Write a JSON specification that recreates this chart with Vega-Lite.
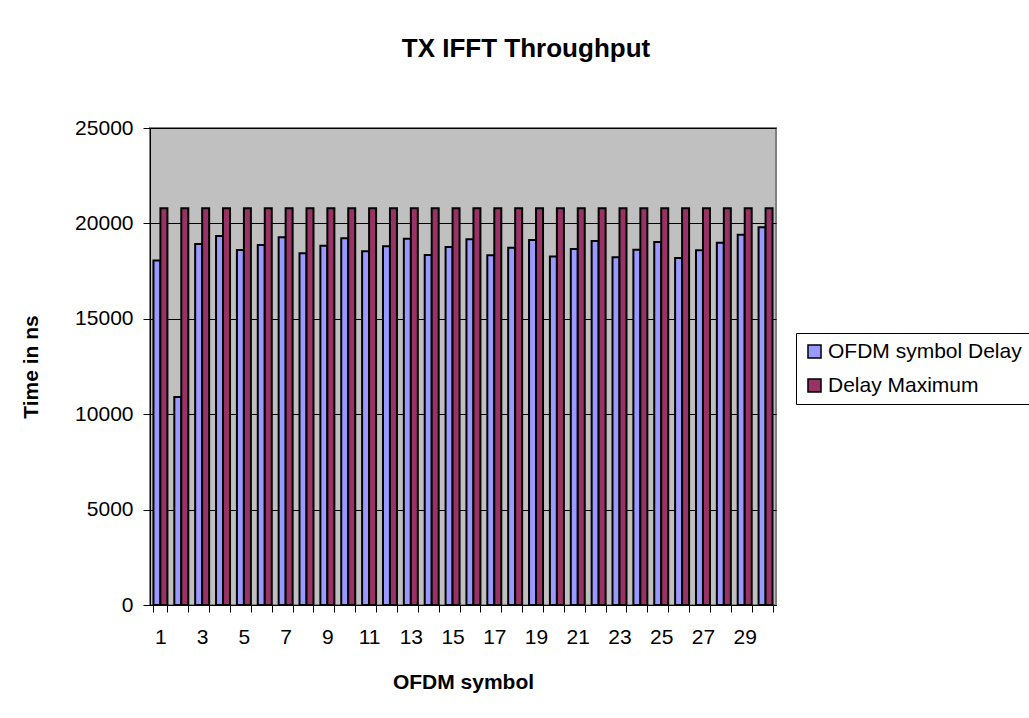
{
  "$schema": "https://vega.github.io/schema/vega-lite/v6.json",
  "width": 626,
  "height": 477,
  "autosize": "none",
  "padding": {"left": 150, "top": 128, "right": 253, "bottom": 113},
  "background": "white",
  "title": {"text": "TX IFFT Throughput", "font": "Liberation Sans", "fontSize": 26, "fontWeight": "bold", "color": "black", "anchor": "middle", "dx": 63, "offset": 55},
  "data": {"values": [
    {"symbol": 1, "series": "OFDM symbol Delay", "value": 18050}, {"symbol": 1, "series": "Delay Maximum", "value": 20800},
    {"symbol": 2, "series": "OFDM symbol Delay", "value": 10900}, {"symbol": 2, "series": "Delay Maximum", "value": 20800},
    {"symbol": 3, "series": "OFDM symbol Delay", "value": 18920}, {"symbol": 3, "series": "Delay Maximum", "value": 20800},
    {"symbol": 4, "series": "OFDM symbol Delay", "value": 19340}, {"symbol": 4, "series": "Delay Maximum", "value": 20800},
    {"symbol": 5, "series": "OFDM symbol Delay", "value": 18610}, {"symbol": 5, "series": "Delay Maximum", "value": 20800},
    {"symbol": 6, "series": "OFDM symbol Delay", "value": 18870}, {"symbol": 6, "series": "Delay Maximum", "value": 20800},
    {"symbol": 7, "series": "OFDM symbol Delay", "value": 19270}, {"symbol": 7, "series": "Delay Maximum", "value": 20800},
    {"symbol": 8, "series": "OFDM symbol Delay", "value": 18430}, {"symbol": 8, "series": "Delay Maximum", "value": 20800},
    {"symbol": 9, "series": "OFDM symbol Delay", "value": 18830}, {"symbol": 9, "series": "Delay Maximum", "value": 20800},
    {"symbol": 10, "series": "OFDM symbol Delay", "value": 19220}, {"symbol": 10, "series": "Delay Maximum", "value": 20800},
    {"symbol": 11, "series": "OFDM symbol Delay", "value": 18540}, {"symbol": 11, "series": "Delay Maximum", "value": 20800},
    {"symbol": 12, "series": "OFDM symbol Delay", "value": 18800}, {"symbol": 12, "series": "Delay Maximum", "value": 20800},
    {"symbol": 13, "series": "OFDM symbol Delay", "value": 19200}, {"symbol": 13, "series": "Delay Maximum", "value": 20800},
    {"symbol": 14, "series": "OFDM symbol Delay", "value": 18340}, {"symbol": 14, "series": "Delay Maximum", "value": 20800},
    {"symbol": 15, "series": "OFDM symbol Delay", "value": 18760}, {"symbol": 15, "series": "Delay Maximum", "value": 20800},
    {"symbol": 16, "series": "OFDM symbol Delay", "value": 19170}, {"symbol": 16, "series": "Delay Maximum", "value": 20800},
    {"symbol": 17, "series": "OFDM symbol Delay", "value": 18330}, {"symbol": 17, "series": "Delay Maximum", "value": 20800},
    {"symbol": 18, "series": "OFDM symbol Delay", "value": 18730}, {"symbol": 18, "series": "Delay Maximum", "value": 20800},
    {"symbol": 19, "series": "OFDM symbol Delay", "value": 19130}, {"symbol": 19, "series": "Delay Maximum", "value": 20800},
    {"symbol": 20, "series": "OFDM symbol Delay", "value": 18260}, {"symbol": 20, "series": "Delay Maximum", "value": 20800},
    {"symbol": 21, "series": "OFDM symbol Delay", "value": 18660}, {"symbol": 21, "series": "Delay Maximum", "value": 20800},
    {"symbol": 22, "series": "OFDM symbol Delay", "value": 19080}, {"symbol": 22, "series": "Delay Maximum", "value": 20800},
    {"symbol": 23, "series": "OFDM symbol Delay", "value": 18220}, {"symbol": 23, "series": "Delay Maximum", "value": 20800},
    {"symbol": 24, "series": "OFDM symbol Delay", "value": 18620}, {"symbol": 24, "series": "Delay Maximum", "value": 20800},
    {"symbol": 25, "series": "OFDM symbol Delay", "value": 19030}, {"symbol": 25, "series": "Delay Maximum", "value": 20800},
    {"symbol": 26, "series": "OFDM symbol Delay", "value": 18190}, {"symbol": 26, "series": "Delay Maximum", "value": 20800},
    {"symbol": 27, "series": "OFDM symbol Delay", "value": 18590}, {"symbol": 27, "series": "Delay Maximum", "value": 20800},
    {"symbol": 28, "series": "OFDM symbol Delay", "value": 18990}, {"symbol": 28, "series": "Delay Maximum", "value": 20800},
    {"symbol": 29, "series": "OFDM symbol Delay", "value": 19410}, {"symbol": 29, "series": "Delay Maximum", "value": 20800},
    {"symbol": 30, "series": "OFDM symbol Delay", "value": 19800}, {"symbol": 30, "series": "Delay Maximum", "value": 20800}
  ]},
  "mark": {"type": "bar", "stroke": "black", "strokeWidth": 2},
  "encoding": {
    "x": {
      "field": "symbol", "type": "ordinal", "sort": "ascending",
      "scale": {"paddingInner": 0.33, "paddingOuter": 0.165},
      "axis": {
        "title": "OFDM symbol", "labelAngle": 0, "tickBand": "extent",
        "labelExpr": "datum.value % 2 == 1 ? datum.label : ''",
        "domainColor": "black", "tickColor": "black", "tickSize": 7,
        "labelFont": "Liberation Sans", "labelFontSize": 21, "labelColor": "black", "labelPadding": 14,
        "titleFont": "Liberation Sans", "titleFontSize": 21, "titleFontWeight": "bold", "titleColor": "black", "titlePadding": 24
      }
    },
    "xOffset": {"field": "series", "type": "nominal", "sort": ["OFDM symbol Delay", "Delay Maximum"]},
    "y": {
      "field": "value", "type": "quantitative",
      "scale": {"domain": [0, 25000], "nice": false},
      "axis": {
        "title": "Time in ns", "values": [0, 5000, 10000, 15000, 20000, 25000], "format": "d",
        "grid": true, "gridColor": "black", "gridWidth": 1,
        "domainColor": "black", "tickColor": "black", "tickSize": 7,
        "labelFont": "Liberation Sans", "labelFontSize": 21, "labelColor": "black", "labelPadding": 10,
        "titleFont": "Liberation Sans", "titleFontSize": 21, "titleFontWeight": "bold", "titleColor": "black", "titlePadding": 33
      }
    },
    "color": {
      "field": "series", "type": "nominal",
      "scale": {"domain": ["OFDM symbol Delay", "Delay Maximum"], "range": ["#9999FF", "#993366"]},
      "legend": {
        "title": null, "orient": "none", "legendX": 646, "legendY": 205,
        "strokeColor": "black", "fillColor": "white", "padding": 8,
        "symbolType": "square", "symbolSize": 170, "symbolStrokeColor": "black", "symbolStrokeWidth": 1.5,
        "labelFont": "Liberation Sans", "labelFontSize": 21, "labelColor": "black", "labelLimit": 400, "rowPadding": 12, "labelOffset": 3
      }
    }
  },
  "config": {
    "view": {"fill": "#C0C0C0", "stroke": "#808080", "strokeWidth": 2}
  }
}
